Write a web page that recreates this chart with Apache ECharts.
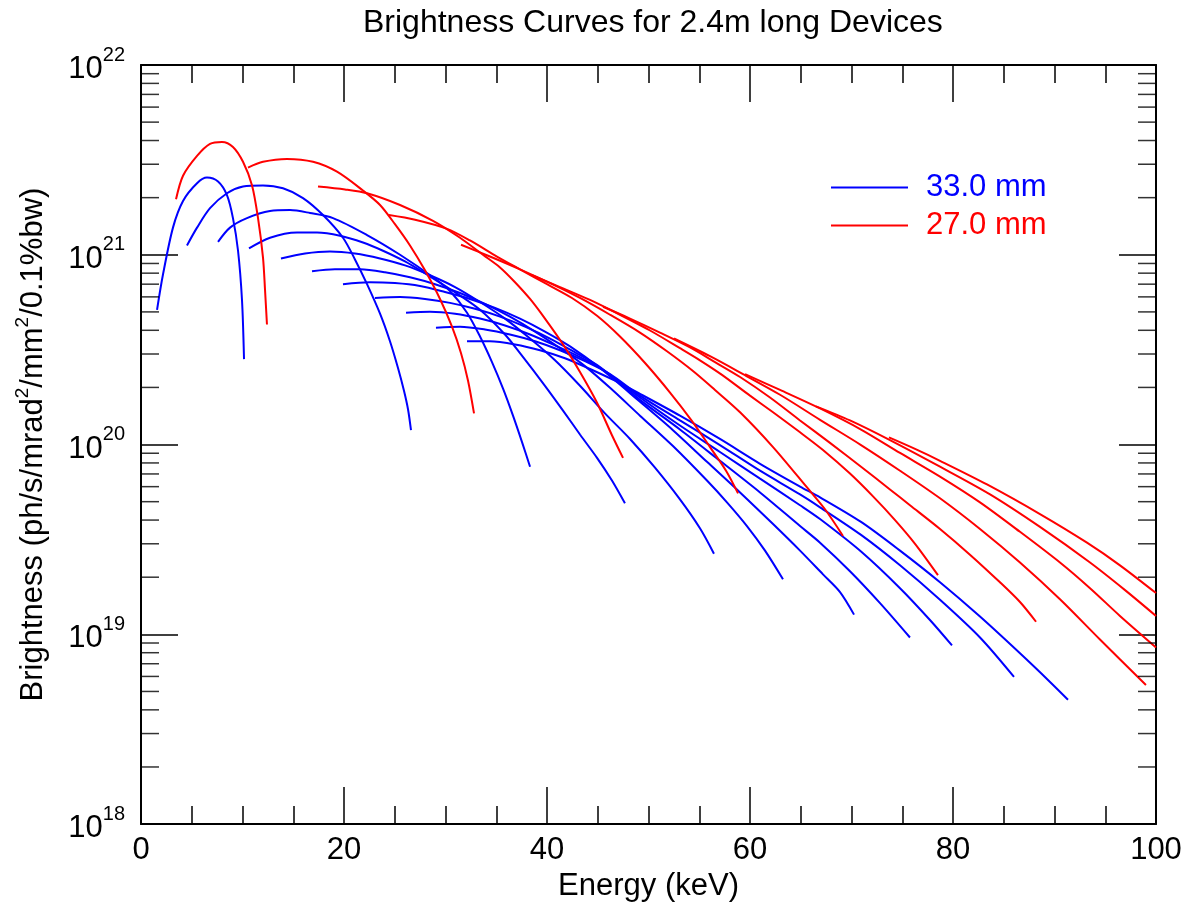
<!DOCTYPE html>
<html>
<head>
<meta charset="utf-8">
<title>Brightness Curves for 2.4m long Devices</title>
<script src="https://cdn.jsdelivr.net/npm/echarts@6.0.0/dist/echarts.min.js"></script>
<style>
  html, body { margin: 0; padding: 0; background: #ffffff; }
  #chart { width: 1185px; height: 907px; }
</style>
</head>
<body>
<div id="chart"></div>
<script>
// Tuning curves: [photon energy (keV), brightness (ph/s/mrad^2/mm^2/0.1%bw)]
// 33.0 mm period device, odd harmonics 1..21
const blue_h1 = [[1.58,5.13e20],[2.17,7.89e20],[3.15,1.39e21],[4.14,1.92e21],[5.52,2.38e21],[6.50,2.55e21],[7.59,2.43e21],[8.47,2.06e21],[9.06,1.56e21],[9.56,1.05e21],[9.95,5.78e20],[10.15,2.82e20]];
const blue_h3 = [[4.53,1.12e21],[5.52,1.39e21],[6.80,1.76e21],[8.47,2.11e21],[10.05,2.29e21],[12.02,2.32e21],[13.99,2.24e21],[15.96,1.99e21],[17.93,1.62e21],[19.90,1.23e21],[21.08,9.45e20],[22.27,7.00e20],[23.55,4.89e20],[24.53,3.50e20],[25.32,2.53e20],[25.91,1.92e20],[26.31,1.53e20],[26.60,1.19e20]];
const blue_h5 = [[7.59,1.17e21],[8.77,1.39e21],[10.44,1.56e21],[12.71,1.70e21],[14.68,1.72e21],[16.65,1.66e21],[18.92,1.56e21],[22.27,1.27e21],[25.52,1.00e21],[28.77,7.61e20],[30.44,6.44e20],[32.12,4.95e20],[33.40,3.71e20],[34.58,2.72e20],[35.67,1.97e20],[36.65,1.42e20],[37.54,1.03e20],[38.33,7.64e19]];
const blue_h7 = [[10.64,1.08e21],[12.71,1.23e21],[15.37,1.31e21],[17.34,1.31e21],[19.61,1.26e21],[21.87,1.16e21],[23.84,1.05e21],[26.01,9.22e20],[28.28,7.80e20],[30.44,6.60e20],[33.40,5.13e20],[35.86,3.80e20],[37.34,3.03e20],[39.80,2.04e20],[41.58,1.51e20],[43.25,1.13e20],[44.93,8.51e19],[46.40,6.46e19],[47.68,4.90e19]];
const blue_h9 = [[13.79,9.56e20],[16.16,1.015e21],[18.62,1.04e21],[21.08,1.015e21],[23.55,9.56e20],[26.01,8.79e20],[28.47,7.80e20],[30.94,6.76e20],[33.40,5.64e20],[35.86,4.61e20],[38.33,3.62e20],[40.79,2.78e20],[43.25,2.04e20],[45.71,1.46e20],[48.18,1.07e20],[50.64,7.55e19],[53.10,5.14e19],[55.07,3.62e19],[56.45,2.66e19]];
const blue_h11 = [[16.85,8.18e20],[19.11,8.38e20],[21.58,8.38e20],[24.04,8.09e20],[26.50,7.61e20],[28.97,7.00e20],[31.43,6.29e20],[33.89,5.51e20],[36.35,4.72e20],[38.82,3.94e20],[41.28,3.22e20],[43.74,2.59e20],[46.21,1.99e20],[49.16,1.42e20],[52.41,9.82e19],[55.76,6.46e19],[57.73,4.96e19],[59.70,3.72e19],[61.48,2.76e19],[63.25,1.95e19]];
const blue_h13 = [[19.90,7.00e20],[22.56,7.17e20],[25.02,7.09e20],[27.49,6.84e20],[29.95,6.36e20],[32.41,5.85e20],[34.88,5.25e20],[37.34,4.61e20],[39.80,3.94e20],[42.27,3.29e20],[45.22,2.53e20],[49.16,1.68e20],[52.41,1.19e20],[55.76,8.11e19],[59.02,5.59e19],[62.27,3.81e19],[64.93,2.76e19],[67.19,2.07e19],[68.87,1.67e19],[70.25,1.27e19]];
const blue_h15 = [[23.05,5.92e20],[25.52,5.99e20],[27.98,5.85e20],[30.44,5.58e20],[32.91,5.19e20],[35.37,4.72e20],[37.83,4.18e20],[40.30,3.62e20],[42.76,3.06e20],[45.22,2.56e20],[49.16,1.72e20],[53.10,1.20e20],[57.04,8.21e19],[60.99,5.59e19],[64.93,3.72e19],[66.90,3.04e19],[69.85,2.15e19],[72.81,1.46e19],[75.76,9.62e18]];
const blue_h17 = [[26.11,4.95e20],[28.47,5.01e20],[30.94,4.89e20],[33.40,4.61e20],[35.86,4.24e20],[38.33,3.80e20],[40.79,3.33e20],[43.25,2.89e20],[45.71,2.44e20],[49.16,1.77e20],[53.10,1.26e20],[57.04,9.14e19],[60.99,6.61e19],[64.93,4.79e19],[66.90,4.05e19],[70.94,2.73e19],[74.78,1.75e19],[77.73,1.19e19],[79.90,8.74e18]];
const blue_h19 = [[29.06,4.13e20],[31.43,4.18e20],[33.89,4.04e20],[36.35,3.80e20],[38.82,3.50e20],[41.28,3.14e20],[43.74,2.75e20],[46.21,2.35e20],[49.16,1.81e20],[53.10,1.34e20],[57.04,9.94e19],[60.99,7.28e19],[64.93,5.46e19],[66.90,4.67e19],[70.94,3.34e19],[74.78,2.31e19],[78.72,1.52e19],[82.66,9.62e18],[86.01,5.96e18]];
const blue_h21 = [[32.12,3.50e20],[34.38,3.50e20],[36.85,3.37e20],[39.31,3.14e20],[41.77,2.85e20],[44.24,2.50e20],[46.70,2.17e20],[49.16,1.85e20],[53.10,1.42e20],[57.04,1.07e20],[60.99,7.92e19],[64.93,6.01e19],[66.90,5.27e19],[70.94,3.91e19],[74.78,2.76e19],[78.72,1.88e19],[82.66,1.24e19],[86.60,7.94e18],[89.56,5.61e18],[91.33,4.52e18]];

// 27.0 mm period device, odd harmonics 1..21
const red_h1 = [[3.45,1.96e21],[4.14,2.61e21],[5.52,3.32e21],[6.80,3.84e21],[7.98,3.93e21],[9.06,3.70e21],[10.05,3.09e21],[10.94,2.32e21],[11.53,1.56e21],[12.02,9.67e20],[12.22,6.52e20],[12.41,4.29e20]];
const red_h3 = [[10.54,2.88e21],[12.02,3.09e21],[14.38,3.20e21],[16.95,3.09e21],[19.31,2.74e21],[21.87,2.18e21],[23.55,1.83e21],[25.02,1.45e21],[26.50,1.12e21],[27.98,8.28e20],[29.46,5.85e20],[30.64,4.18e20],[31.53,3.03e20],[32.22,2.17e20],[32.81,1.46e20]];
const red_h5 = [[17.44,2.29e21],[20.10,2.21e21],[22.27,2.11e21],[25.52,1.83e21],[28.77,1.51e21],[31.43,1.23e21],[33.69,1.00e21],[35.37,8.58e20],[36.85,7.17e20],[38.33,5.85e20],[39.80,4.61e20],[41.58,3.37e20],[43.25,2.41e20],[44.93,1.66e20],[46.40,1.12e20],[47.49,8.51e19]];
const red_h7 = [[24.43,1.62e21],[27.00,1.53e21],[30.15,1.37e21],[32.41,1.19e21],[35.07,9.79e20],[37.34,8.38e20],[40.00,7.00e20],[42.46,5.92e20],[44.93,4.77e20],[47.19,3.71e20],[49.66,2.69e20],[52.12,1.88e20],[54.29,1.33e20],[56.06,9.70e19],[57.64,7.28e19],[58.82,5.53e19]];
const red_h9 = [[31.53,1.13e21],[34.38,9.79e20],[37.34,8.38e20],[40.30,7.09e20],[43.25,5.92e20],[46.21,4.83e20],[49.16,3.89e20],[51.82,3.10e20],[54.38,2.44e20],[56.55,1.94e20],[59.02,1.48e20],[62.27,9.70e19],[65.62,5.94e19],[67.39,4.56e19],[69.16,3.30e19]];
const red_h11 = [[38.52,7.80e20],[41.28,6.76e20],[44.24,5.78e20],[47.19,4.83e20],[50.15,3.99e20],[53.10,3.22e20],[55.07,2.78e20],[57.24,2.33e20],[60.00,1.81e20],[62.27,1.48e20],[64.93,1.16e20],[67.19,9.36e19],[69.85,7.03e19],[72.12,5.33e19],[74.29,4.00e19],[76.26,3.00e19],[78.52,2.05e19]];
const red_h13 = [[45.52,5.32e20],[48.18,4.61e20],[51.13,3.89e20],[54.09,3.25e20],[56.55,2.72e20],[59.02,2.27e20],[61.97,1.77e20],[64.93,1.34e20],[67.88,1.02e20],[70.94,7.64e19],[73.79,5.80e19],[75.76,4.79e19],[78.72,3.59e19],[81.67,2.63e19],[84.63,1.88e19],[86.60,1.48e19],[88.18,1.165e19]];
const red_h15 = [[52.51,3.62e20],[56.06,2.92e20],[59.31,2.35e20],[62.96,1.83e20],[66.90,1.35e20],[70.94,9.94e19],[74.78,7.28e19],[78.72,5.21e19],[82.66,3.59e19],[86.60,2.39e19],[90.54,1.53e19],[94.48,9.39e18],[99.01,5.41e18]];
const red_h17 = [[59.51,2.35e20],[62.96,1.94e20],[66.90,1.55e20],[70.94,1.20e20],[74.78,9.03e19],[78.72,6.78e19],[82.66,4.96e19],[86.60,3.47e19],[90.54,2.39e19],[93.50,1.75e19],[96.45,1.25e19],[100,8.53e18]];
const red_h19 = [[66.50,1.59e20],[69.85,1.34e20],[73.79,1.055e20],[78.72,7.64e19],[83.65,5.46e19],[88.57,3.68e19],[93.50,2.39e19],[96.95,1.71e19],[100,1.25e19]];
const red_h21 = [[73.69,1.09e20],[76.26,9.48e19],[78.72,8.21e19],[83.35,6.16e19],[88.57,4.30e19],[93.20,3.04e19],[96.45,2.31e19],[100,1.65e19]];

const blueCurves = [blue_h1, blue_h3, blue_h5, blue_h7, blue_h9, blue_h11, blue_h13, blue_h15, blue_h17, blue_h19, blue_h21];
const redCurves = [red_h1, red_h3, red_h5, red_h7, red_h9, red_h11, red_h13, red_h15, red_h17, red_h19, red_h21];

const seriesNames = ['33.0 mm', '27.0 mm'];
const seriesColors = ['#0000ff', '#ff0000'];

// Axis ranges and tick marks
const xRange = [0, 100];
const xMajorStep = 20;
const yRange = [1e18, 1e22];
const yMinorTicks = [];
for (let k = 18; k < 22; k++) {
  for (let m = 2; m <= 9; m++) yMinorTicks.push(m * Math.pow(10, k));
}

const FONT = '"Liberation Sans", Arial, Helvetica, sans-serif';
const chart = echarts.init(document.getElementById('chart'), null, { renderer: 'canvas' });

const frameLine = { show: true, onZero: false, lineStyle: { color: '#000', width: 2 } };
const majorTick = { show: true, inside: true, length: 37, lineStyle: { color: '#000', width: 1.5 } };
const minorTick = { show: true, splitNumber: 4, length: 18, lineStyle: { color: '#000', width: 1.5 } };

function curveSeries(data, idx) {
  return {
    type: 'line',
    name: seriesNames[idx],
    data: data,
    xAxisIndex: 0,
    yAxisIndex: 0,
    showSymbol: false,
    symbol: 'none',
    smooth: 0.3,
    lineStyle: { color: seriesColors[idx], width: 2 },
    itemStyle: { color: seriesColors[idx] },
    silent: true,
    z: 3 + idx
  };
}

// Short inward ticks at 2..9 of each decade on the left and right frame edges
function minorTickSeries(xVal, offset) {
  return {
    type: 'scatter',
    data: yMinorTicks.map(v => [xVal, v]),
    xAxisIndex: 0,
    yAxisIndex: 0,
    symbol: 'rect',
    symbolSize: [18, 1.5],
    symbolOffset: [offset, 0],
    itemStyle: { color: '#000' },
    clip: false,
    silent: true,
    z: 10
  };
}

const series = [];
blueCurves.forEach(c => series.push(curveSeries(c, 0)));
redCurves.forEach(c => series.push(curveSeries(c, 1)));
series.push(minorTickSeries(xRange[0], 9));
series.push(minorTickSeries(xRange[1], -9));

const option = {
  animation: false,
  backgroundColor: '#ffffff',
  textStyle: { fontFamily: FONT, color: '#000' },
  title: {
    text: 'Brightness Curves for 2.4m long Devices',
    left: 358,
    top: 2,
    textStyle: { fontFamily: FONT, fontSize: 32, fontWeight: 'normal', color: '#000' }
  },
  legend: {
    data: [
      { name: seriesNames[0], icon: 'rect', itemStyle: { color: seriesColors[0] }, textStyle: { color: seriesColors[0] } },
      { name: seriesNames[1], icon: 'rect', itemStyle: { color: seriesColors[1] }, textStyle: { color: seriesColors[1] } }
    ],
    orient: 'vertical',
    left: 831,
    top: 172,
    padding: 0,
    itemWidth: 77,
    itemHeight: 2,
    itemGap: 7,
    selectedMode: false,
    textStyle: { fontFamily: FONT, fontSize: 31, padding: [0, 0, 0, 13] }
  },
  grid: { left: 141, right: 29, top: 65, bottom: 73 },
  xAxis: [
    {
      type: 'value', position: 'bottom', min: xRange[0], max: xRange[1], interval: xMajorStep,
      axisLine: frameLine, axisTick: majorTick, minorTick: minorTick,
      splitLine: { show: false },
      axisLabel: { fontFamily: FONT, fontSize: 31, color: '#000', margin: 11 },
      name: 'Energy (keV)', nameLocation: 'middle', nameGap: 37,
      nameTextStyle: { fontFamily: FONT, fontSize: 31, color: '#000' }
    },
    {
      type: 'value', position: 'top', min: xRange[0], max: xRange[1], interval: xMajorStep,
      axisLine: frameLine, axisTick: majorTick, minorTick: minorTick,
      splitLine: { show: false }, axisLabel: { show: false }
    }
  ],
  yAxis: [
    {
      type: 'log', logBase: 10, position: 'left', min: yRange[0], max: yRange[1], splitNumber: 4,
      axisLine: frameLine, axisTick: majorTick,
      splitLine: { show: false },
      axisLabel: {
        margin: 16,
        formatter: v => '{b|10}{s|' + Math.round(Math.log10(v)) + '}',
        rich: {
          b: { fontFamily: FONT, fontSize: 31, color: '#000', padding: [9, 0, 0, 0] },
          s: { fontFamily: FONT, fontSize: 20, color: '#000', verticalAlign: 'top' }
        }
      },
      name: '{t|Brightness (ph/s/mrad}{s|2}{t|/mm}{s|2}{t|/0.1%bw)}',
      nameLocation: 'middle', nameRotate: 90, nameGap: 92,
      nameTextStyle: {
        fontFamily: FONT, fontSize: 31, color: '#000',
        rich: {
          t: { fontFamily: FONT, fontSize: 31, color: '#000', padding: [5, 0, 0, 0] },
          s: { fontFamily: FONT, fontSize: 19, color: '#000', verticalAlign: 'top' }
        }
      }
    },
    {
      type: 'log', logBase: 10, position: 'right', min: yRange[0], max: yRange[1], splitNumber: 4,
      axisLine: frameLine, axisTick: majorTick,
      splitLine: { show: false }, axisLabel: { show: false }
    }
  ],
  series: series
};

chart.setOption(option);
</script>
</body>
</html>
